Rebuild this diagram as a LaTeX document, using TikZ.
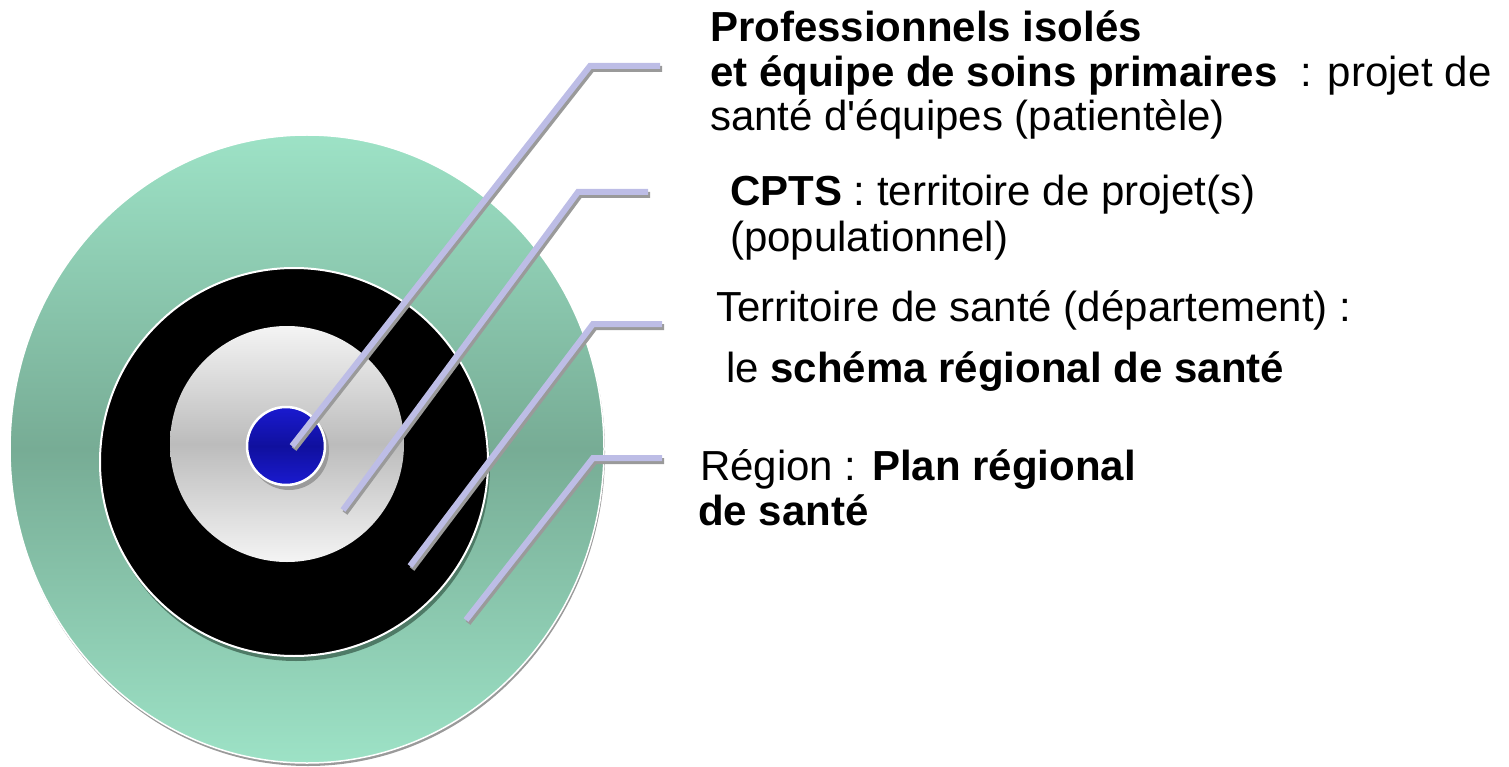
\documentclass[tikz,border=0pt]{standalone}
\usepackage{fontspec}
\setmainfont{Liberation Sans}
\definecolor{vertclair}{HTML}{9DE2C6}
\definecolor{vertfonce}{HTML}{77AC95}
\definecolor{grisclair}{HTML}{F4F4F4}
\definecolor{grisfonce}{HTML}{BCBCBC}
\definecolor{bleuclair}{HTML}{1A1AD0}
\definecolor{bleufonce}{HTML}{10109E}
\definecolor{lavande}{HTML}{BDBDE6}
\definecolor{ombregris}{HTML}{9A9A9A}
\definecolor{ombrevert}{HTML}{4E7A66}
\begin{document}
\begin{tikzpicture}[x=1pt,y=-1pt,
    lien/.style={draw=lavande,line width=6pt},
    ombre/.style={draw=ombregris,line width=6pt},
    texte/.style={anchor=base west,inner sep=0pt,font=\fontsize{42}{46}\selectfont}]
    \useasboundingbox (0,0) rectangle (1509,767);

    % Anneaux
    \fill[ombregris] (308,452) ellipse [x radius=297, y radius=314];
    \path[top color=vertclair,bottom color=vertclair,middle color=vertfonce,
        draw=white,line width=1.5pt] (307,449) ellipse [x radius=297, y radius=314];
    \fill[ombrevert] (296,467) circle (194);
    \path[fill=black,draw=white,line width=2pt] (294,462) circle (194);
    \path[top color=grisclair,bottom color=grisclair,middle color=grisfonce]
        (287,444) ellipse [x radius=117, y radius=118];
    \fill[ombregris] (289,450) circle (40);
    \path[top color=bleuclair,bottom color=bleuclair,middle color=bleufonce,
        draw=white,line width=2.5pt] (286,446) circle (39);

    % Points de départ, coudes et fins des traits
    \coordinate (p1) at (292,446);
    \coordinate (c1) at (590,66);
    \coordinate (f1) at (660,66);
    \coordinate (p2) at (343,510);
    \coordinate (c2) at (578,192);
    \coordinate (f2) at (648,192);
    \coordinate (p3) at (410,566);
    \coordinate (c3) at (593,324);
    \coordinate (f3) at (662,324);
    \coordinate (p4) at (466,620);
    \coordinate (c4) at (593,458);
    \coordinate (f4) at (662,458);

    % Traits
    \foreach \i in {1,...,4} {
        \draw[ombre] ([shift={(2,3)}]p\i) -- ([shift={(2,3)}]c\i) -- ([shift={(2,3)}]f\i);
        \draw[lien] (p\i) -- (c\i) -- (f\i);
    }

    % Etiquettes
    \node[texte] (pro1) at (710,42) {\textbf{Professionnels isolés}};
    \node[texte] (pro2) at (710,87) {\textbf{et équipe de soins primaires}\ \ : projet de};
    \node[texte] (pro3) at (710,131) {santé d\textquotesingle équipes (patientèle)};
    \node[texte] (cpts1) at (730,206) {\textbf{CPTS} : territoire de projet(s)};
    \node[texte] (cpts2) at (730,252) {(populationnel)};
    \node[texte] (terr1) at (716,321) {Territoire de santé (département) :};
    \node[texte] (terr2) at (726,382) {le \textbf{schéma régional de santé}};
    \node[texte] (reg1) at (700,480) {Région : \textbf{Plan régional}};
    \node[texte] (reg2) at (698,525) {\textbf{de santé}};
\end{tikzpicture}
\end{document}
